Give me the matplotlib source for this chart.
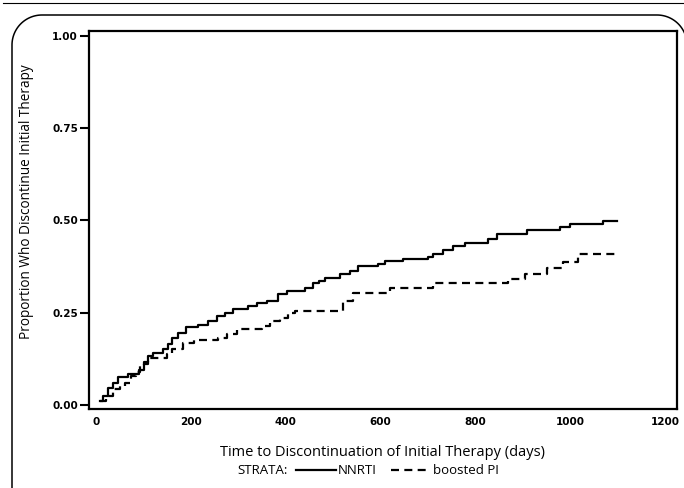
#Kaplan-Meier style cumulative discontinuation curves, NNRTI vs boosted PI

import numpy as np
import matplotlib
matplotlib.use("Agg")
from matplotlib import pyplot as plt
from matplotlib.lines import Line2D
from matplotlib.transforms import IdentityTransform

#step curve values (days, cumulative proportion)
nnrtiDays = [8, 15, 25, 35, 46, 67, 90, 100, 110, 120, 141, 152, 160, 173, 190, 215, 236, 255, 272,
             289, 320, 340, 360, 384, 402, 440, 457, 470, 483, 514, 535, 552, 594, 609, 647, 700,
             710, 731, 752, 778, 826, 845, 908, 978, 999, 1068, 1098]
nnrtiProp = [0.011, 0.025, 0.046, 0.06, 0.076, 0.084, 0.095, 0.11, 0.133, 0.141, 0.152, 0.165, 0.18,
             0.195, 0.211, 0.217, 0.228, 0.241, 0.25, 0.26, 0.268, 0.275, 0.282, 0.30, 0.309, 0.317,
             0.33, 0.337, 0.344, 0.355, 0.362, 0.376, 0.382, 0.39, 0.395, 0.40, 0.41, 0.42, 0.43,
             0.44, 0.45, 0.463, 0.474, 0.482, 0.49, 0.499, 0.499]

piDays = [8, 20, 36, 50, 61, 74, 85, 93, 100, 110, 150, 160, 183, 206, 257, 276, 297, 350, 367,
          388, 405, 420, 520, 542, 619, 710, 868, 904, 950, 984, 1016, 1094]
piProp = [0.011, 0.025, 0.043, 0.05, 0.06, 0.079, 0.09, 0.106, 0.115, 0.127, 0.138, 0.152, 0.168,
          0.176, 0.182, 0.192, 0.206, 0.214, 0.228, 0.236, 0.249, 0.255, 0.282, 0.304, 0.317, 0.33,
          0.34, 0.355, 0.371, 0.387, 0.41, 0.41]

xTicks = [0, 200, 400, 600, 800, 1000, 1200]
yTicks = [0.00, 0.25, 0.50, 0.75, 1.00]

labelFont = ["Open Sans", "DejaVu Sans"]
tickFont = "DejaVu Sans"

fig = plt.figure(figsize=(6.84, 4.88), dpi=100)
ax = fig.add_axes([89/684, 1 - 409/488, (677 - 89)/684, (409 - 31)/488])

ax.step(nnrtiDays, nnrtiProp, where="post", color="black", lw=1.6, label="NNRTI")
ax.step(piDays, piProp, where="post", color="black", lw=1.6, dashes=(3.6, 2.4), label="boosted PI")

ax.set_xlim(-15, 1225)
ax.set_ylim(-0.011, 1.013)
ax.set_xticks(xTicks)
ax.set_yticks(yTicks)
ax.set_xticklabels([str(t) for t in xTicks], fontsize=7.5, fontweight="bold", family=tickFont)
ax.set_yticklabels(["%.2f" % t for t in yTicks], fontsize=7.5, fontweight="bold", family=tickFont)
ax.tick_params(axis="x", length=0, pad=6)
ax.tick_params(axis="y", length=6.5, width=1.5, pad=1.5)
for s in ax.spines.values():
    s.set_linewidth(1.6)

ax.set_xlabel("Time to Discontinuation of Initial Therapy (days)", family=labelFont, fontsize=10.5)
ax.xaxis.set_label_coords(0.5, -(452 - 409)/378, transform=ax.transAxes)
ax.xaxis.label.set_va("center")
ax.set_ylabel("Proportion Who Discontinue Initial Therapy", family=labelFont, fontsize=9.8)
ax.yaxis.set_label_coords((27 - 89)/588, (409 - 202)/378, transform=ax.transAxes)
ax.yaxis.label.set_va("center")

#legend row: "STRATA:" then the two line samples
fig.text(237/684, 1 - 471/488, "STRATA:", family=labelFont, fontsize=9.5, va="center", ha="left")
leg = fig.legend(loc="center left", bbox_to_anchor=(296/684, 1 - 471/488), ncol=2, frameon=False,
                 prop={"family": labelFont, "size": 9.5}, handlelength=3.0, handletextpad=0.15,
                 columnspacing=1.1, borderpad=0, borderaxespad=0)

#outer rounded frame (pixel coords, open path running off the right and bottom edges)
r = 30
top = 488 - 15
left = 12
a1 = np.linspace(np.pi, np.pi/2, 30)
a2 = np.linspace(np.pi/2, 0, 30)
fx = np.concatenate([[left], left + r + r*np.cos(a1), 657 + r*np.cos(a2), [657 + r]])
fy = np.concatenate([[-10], top - r + r*np.sin(a1), top - r + r*np.sin(a2), [-10]])
fig.add_artist(Line2D(fx, fy, transform=IdentityTransform(), color="black", lw=1.1))
fig.add_artist(Line2D([3/684, 1], [1 - 3/488, 1 - 3/488], transform=fig.transFigure,
                      color="black", lw=0.8))

fig.savefig("out.png", dpi=100)
